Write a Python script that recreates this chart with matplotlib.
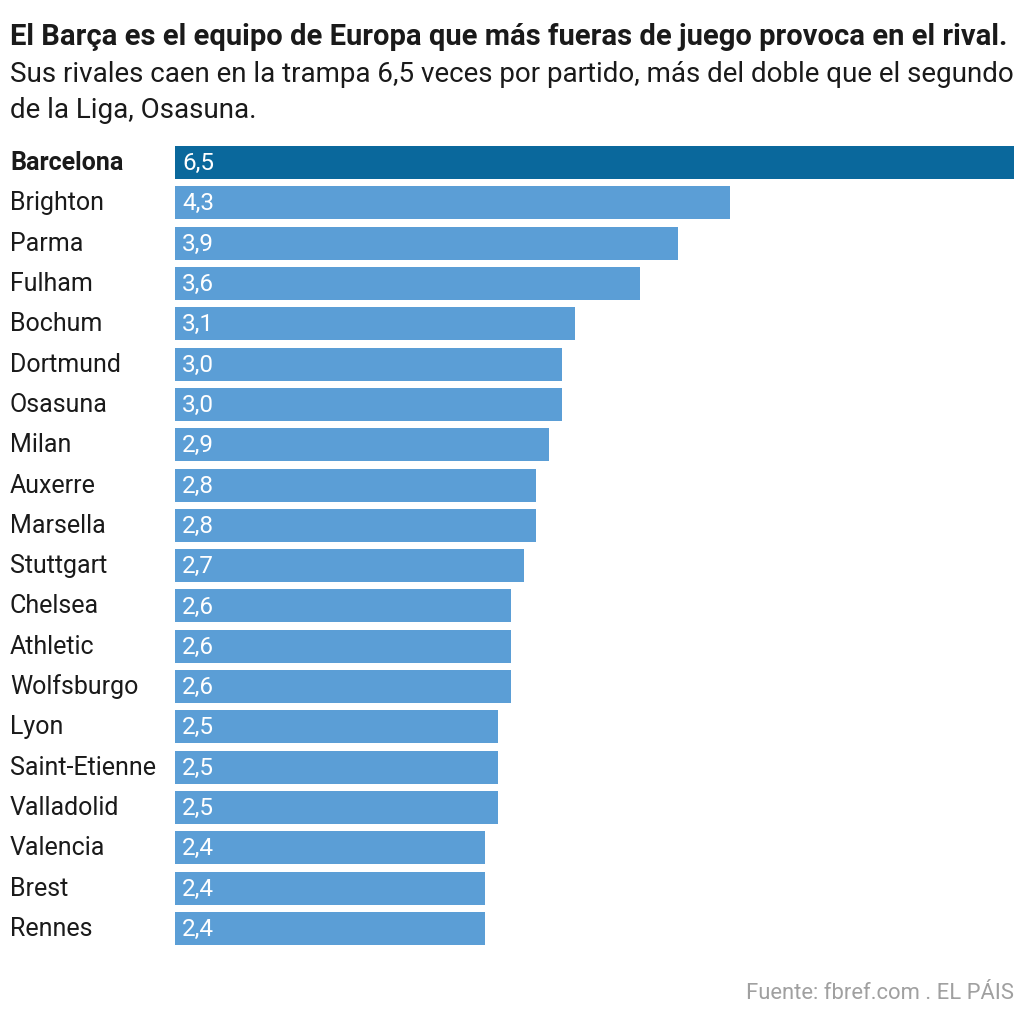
import matplotlib
matplotlib.use("Agg")
import matplotlib.pyplot as plt

teams = ["Barcelona", "Brighton", "Parma", "Fulham", "Bochum", "Dortmund", "Osasuna",
         "Milan", "Auxerre", "Marsella", "Stuttgart", "Chelsea", "Athletic", "Wolfsburgo",
         "Lyon", "Saint-Etienne", "Valladolid", "Valencia", "Brest", "Rennes"]
values = [6.5, 4.3, 3.9, 3.6, 3.1, 3.0, 3.0, 2.9, 2.8, 2.8, 2.7, 2.6, 2.6, 2.6,
          2.5, 2.5, 2.5, 2.4, 2.4, 2.4]

title = "El Barça es el equipo de Europa que más fueras de juego provoca en el rival."
subtitle1 = "Sus rivales caen en la trampa 6,5 veces por partido, más del doble que el segundo"
subtitle2 = "de la Liga, Osasuna."
source = "Fuente: fbref.com . EL PÁIS"

plt.rcParams['font.family'] = ['Roboto', 'DejaVu Sans']

W, H = 1024, 1016
fig = plt.figure(figsize=(W / 100, H / 100), dpi=100)
ax = fig.add_axes([175 / W, 1 - 945 / H, (1014 - 175) / W, (945 - 146) / H])

dark = "#0a689c"
light = "#5b9ed6"
colors = [dark] + [light] * (len(values) - 1)
ypos = list(range(len(values)))
ax.barh(ypos, values, height=0.82, color=colors)
ax.set_xlim(0, 6.5)
ax.set_ylim(len(values) - 1 + 0.41, -0.41)
ax.axis("off")

px = 6.5 / 839.0
off = 7.5 / 40.26
for i, (t, v) in enumerate(zip(teams, values)):
    ax.text(7 * px, i + off, f"{v:.1f}".replace(".", ","), color="white", fontsize=17.5,
            va="baseline", ha="left")
    ax.text(-165 * px, i + off, t, color="#1a1a1a", fontsize=18,
            fontweight="bold" if i == 0 else "normal", va="baseline", ha="left")

fig.text(10 / W, 1 - 45 / H, title, fontsize=21, fontweight="bold", color="#1a1a1a",
         va="baseline", ha="left")
fig.text(10 / W, 1 - 82 / H, subtitle1, fontsize=20, color="#1a1a1a",
         va="baseline", ha="left")
fig.text(10 / W, 1 - 118 / H, subtitle2, fontsize=20, color="#1a1a1a",
         va="baseline", ha="left")
fig.text(1014 / W, 1 - 999 / H, source, fontsize=15.8, color="#a0a0a0",
         va="baseline", ha="right")

fig.savefig("out.png", dpi=100, facecolor="white")
